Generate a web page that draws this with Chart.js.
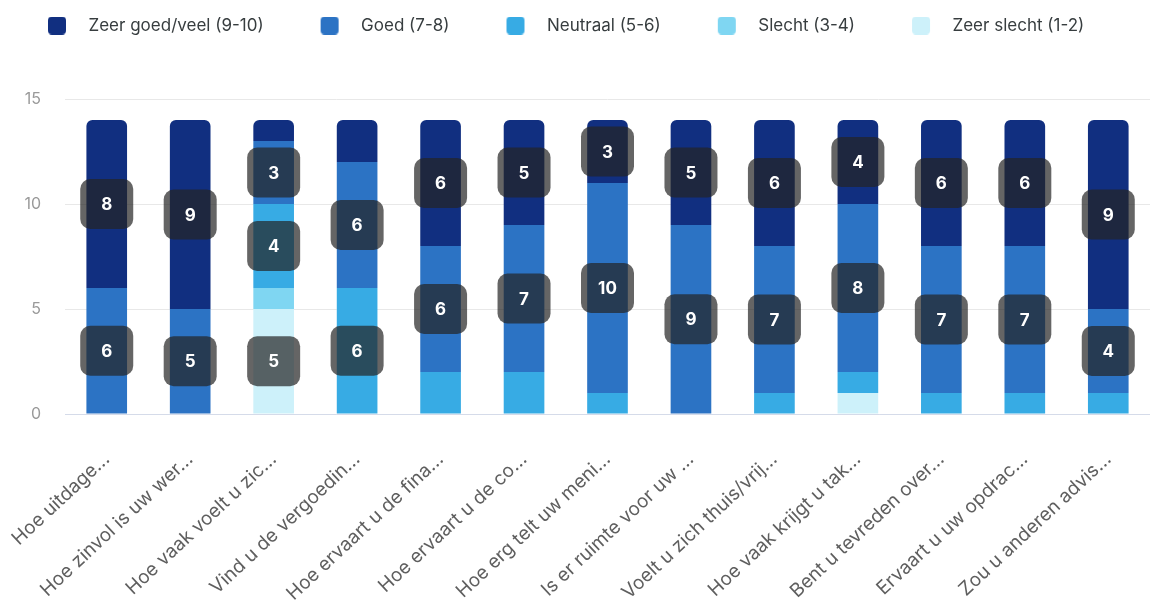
<!DOCTYPE html>
<html>
<head>
<meta charset="utf-8">
<script src="https://cdn.jsdelivr.net/npm/chart.js@4.4.1/dist/chart.umd.min.js"></script>
<style>
  html, body { margin: 0; padding: 0; background: #fff; overflow: hidden; }
  #wrap { width: 1150px; height: 607px; }
</style>
</head>
<body>
<div id="wrap"><canvas id="barChart"></canvas></div>
<script>
// DATA //
var categories = [
    "Hoe uitdage...", "Hoe zinvol is uw wer...", "Hoe vaak voelt u zic...",
    "Vind u de vergoedin...", "Hoe ervaart u de fina...", "Hoe ervaart u de co...",
    "Hoe erg telt uw meni...", "Is er ruimte voor uw ...", "Voelt u zich thuis/vrij...",
    "Hoe vaak krijgt u tak...", "Bent u tevreden over...", "Ervaart u uw opdrac...",
    "Zou u anderen advis..."
];
var zeerGoed   = [8, 9, 1, 2, 6, 5, 3, 5, 6, 4, 6, 6, 9];
var goed       = [6, 5, 3, 6, 6, 7, 10, 9, 7, 8, 7, 7, 4];
var neutraal   = [0, 0, 4, 6, 2, 2, 1, 0, 1, 1, 1, 1, 1];
var slecht     = [0, 0, 1, 0, 0, 0, 0, 0, 0, 0, 0, 0, 0];
var zeerSlecht = [0, 0, 5, 0, 0, 0, 0, 0, 0, 1, 0, 0, 0];
var yTicks = [0, 5, 10, 15];

var seriesNames = ["Zeer slecht (1-2)", "Slecht (3-4)", "Neutraal (5-6)", "Goed (7-8)", "Zeer goed/veel (9-10)"];
var seriesColors = ["#cdf1fa", "#7fd6f2", "#37abe4", "#2c73c4", "#112f80"];

// legend marker: rounded square, empty room on the left gives the spacing between items
var markerGap = 47;
var markerWidth = 79;
function makeMarker(color) {
    var c = document.createElement('canvas');
    c.width = markerWidth; c.height = 18;
    var g = c.getContext('2d');
    g.fillStyle = color;
    g.beginPath();
    g.roundRect(markerGap, 0, 18, 18, 4);
    g.fill();
    return c;
}

// value boxes on the bars
const boxLabels = {
    id: 'boxLabels',
    afterDatasetsDraw(chart) {
        const ctx = chart.ctx;
        ctx.save();
        chart.data.datasets.forEach((ds, i) => {
            const meta = chart.getDatasetMeta(i);
            meta.data.forEach((bar, j) => {
                const v = ds.data[j];
                if (v < 3) return;
                const p = bar.getProps(['x', 'y', 'base'], true);
                const cy = (p.y + p.base) / 2;
                ctx.fillStyle = 'rgba(36, 36, 36, 0.7)';
                ctx.beginPath();
                ctx.roundRect(p.x - 26.5, cy - 25, 53, 50, 10);
                ctx.fill();
                ctx.fillStyle = '#ffffff';
                ctx.font = 'bold 17px Inter';
                ctx.textAlign = 'center';
                ctx.textBaseline = 'middle';
                ctx.fillText(String(v), p.x, cy + 1);
            });
        });
        ctx.restore();
    }
};

// give legend a fixed height so plot starts lower
const legendHeight = {
    id: 'legendHeight',
    beforeInit(chart) {
        const fit = chart.legend.fit;
        chart.legend.fit = function () {
            fit.bind(chart.legend)();
            this.height = 92;
        };
    }
};

var datasets = [zeerSlecht, slecht, neutraal, goed, zeerGoed].map((vals, i) => ({
    label: seriesNames[i],
    data: vals,
    backgroundColor: seriesColors[i],
    borderWidth: 0,
    borderSkipped: false,
    borderRadius: i === 4 ? { topLeft: 6, topRight: 6, bottomLeft: 0, bottomRight: 0 } : 0,
    categoryPercentage: 1,
    barPercentage: 0.487
}));

var ctxB = document.getElementById('barChart').getContext('2d');
var configB = {
    type: 'bar',
    data: { labels: categories, datasets: datasets },
    options: {
        responsive: true,
        maintainAspectRatio: false,
        animation: false,
        layout: { padding: { top: 7, left: -9, right: -10, bottom: 0 } },
        plugins: {
            tooltip: { enabled: false },
            legend: {
                position: 'top',
                align: 'start',
                reverse: true,
                labels: {
                    usePointStyle: true,
                    pointStyleWidth: markerWidth,
                    padding: 10,
                    color: '#373d3f',
                    font: { family: 'Inter', size: 17 },
                    generateLabels: function (chart) {
                        var items = Chart.defaults.plugins.legend.labels.generateLabels(chart);
                        items.forEach(it => { it.pointStyle = makeMarker(seriesColors[it.datasetIndex]); });
                        return items;
                    }
                }
            }
        },
        scales: {
            x: {
                stacked: true,
                grid: { display: false },
                border: { display: true, color: '#d5dbe9' },
                ticks: {
                    color: '#5f5f5f',
                    font: { family: 'Inter', size: 19 },
                    minRotation: 43,
                    maxRotation: 43,
                    padding: 26,
                    autoSkip: false
                },
                afterFit: function (scale) {
                    scale.height = 193;
                    scale.paddingLeft = 0;
                    scale.paddingRight = 0;
                }
            },
            y: {
                stacked: true,
                min: 0,
                max: 15,
                afterBuildTicks: function (scale) {
                    scale.ticks = yTicks.map(v => ({ value: v }));
                },
                grid: { color: '#e8e8e8', drawTicks: false },
                border: { display: false },
                ticks: {
                    color: '#9a9a9a',
                    font: { family: 'Inter', size: 16 },
                    padding: 24
                },
                afterFit: function (scale) {
                    scale.width = 74;
                }
            }
        }
    },
    plugins: [boxLabels, legendHeight]
};
var Barchart = new Chart(ctxB, configB);
</script>
</body>
</html>
